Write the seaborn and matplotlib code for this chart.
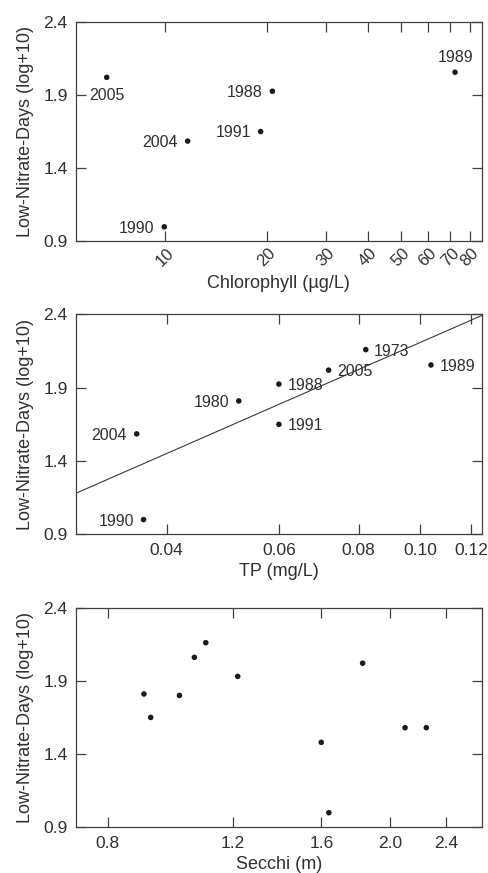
import numpy as np
import pandas as pd
import seaborn as sns
import matplotlib.pyplot as plt
from matplotlib.ticker import FixedLocator, FixedFormatter, NullLocator

# values

# panel 1 : chlorophyll
chl_ugl = [6.72, 9.95, 11.67, 19.2, 20.8, 72.3]
chl_days = [2.02, 1.00, 1.585, 1.65, 1.925, 2.055]
chl_years = ['2005', '1990', '2004', '1991', '1988', '1989']

# panel 2 : total phosphorus
tp_mgl = [0.0359, 0.0368, 0.0519, 0.060, 0.060, 0.0718, 0.0821, 0.1039]
tp_days = [1.585, 1.00, 1.81, 1.925, 1.65, 2.02, 2.16, 2.055]
tp_years = ['2004', '1990', '1980', '1988', '1991', '2005', '1973', '1989']

# panel 3 : secchi depth
secchi_m = [0.90, 0.92, 1.01, 1.06, 1.10, 1.22, 1.60, 1.64, 1.83, 2.10, 2.25]
secchi_days = [1.81, 1.65, 1.80, 2.06, 2.16, 1.93, 1.48, 1.00, 2.02, 1.58, 1.58]

y_ticks = [0.9, 1.4, 1.9, 2.4]
chl_ticks = [10, 20, 30, 40, 50, 60, 70, 80]
tp_ticks = [0.04, 0.06, 0.08, 0.10, 0.12]
tp_ticklabels = ['0.04', '0.06', '0.08', '0.10', '0.12']
secchi_ticks = [0.8, 1.2, 1.6, 2.0, 2.4]
secchi_ticklabels = ['0.8', '1.2', '1.6', '2.0', '2.4']

# where each year label sits relative to its point
chl_place = ['below', 'left', 'left', 'left', 'left', 'above']
tp_place = ['left', 'left', 'left', 'right', 'right', 'right', 'right', 'right']

TEXT = '#303030'
EDGE = '#404040'

sns.set_style('ticks')
plt.rcParams['font.family'] = ['Liberation Sans', 'DejaVu Sans']
plt.rcParams['text.color'] = TEXT
plt.rcParams['axes.labelcolor'] = TEXT
plt.rcParams['xtick.color'] = EDGE
plt.rcParams['ytick.color'] = EDGE
plt.rcParams['xtick.labelcolor'] = TEXT
plt.rcParams['ytick.labelcolor'] = TEXT
plt.rcParams['axes.edgecolor'] = EDGE


def style_axes(ax, xlim, ticks, ticklabels, xlabel, rot=0):
    ax.set_xscale('log')
    ax.set_xlim(*xlim)
    ax.set_ylim(0.9, 2.4)
    ax.xaxis.set_major_locator(FixedLocator(ticks))
    ax.xaxis.set_major_formatter(FixedFormatter(ticklabels))
    ax.xaxis.set_minor_locator(NullLocator())
    ax.set_yticks(y_ticks)
    ax.set_yticklabels([f'{v:.1f}' for v in y_ticks])
    ax.tick_params(direction='in', length=7.5, width=0.9, pad=6,
                   labelsize=12.5, top=True, right=True)
    for sp in ax.spines.values():
        sp.set_visible(True)
        sp.set_linewidth(0.9)
    if rot:
        for lab in ax.get_xticklabels():
            lab.set_rotation(rot)
            lab.set_ha('center')
            lab.set_fontsize(12)
        ax.tick_params(axis='x', pad=3)
    ax.set_xlabel(xlabel, fontsize=13, labelpad=4)
    ax.set_ylabel('Low-Nitrate-Days (log+10)', fontsize=13, labelpad=7)


def label_points(ax, xs, ys, labels, places):
    for x, y, lab, pl in zip(xs, ys, labels, places):
        if pl == 'left':
            off, ha, va = (-7, -1), 'right', 'center'
        elif pl == 'right':
            off, ha, va = (6, -1), 'left', 'center'
        elif pl == 'below':
            off, ha, va = (0, -8), 'center', 'top'
        else:
            off, ha, va = (0, 7.5), 'center', 'baseline'
        ax.annotate(lab, (x, y), xytext=off, textcoords='offset points',
                    ha=ha, va=va, fontsize=11.5, color=TEXT)


fig = plt.figure(figsize=(4.88, 8.73), dpi=100)
left, width, height = 0.1557, 0.8314, 0.2518
ax1 = fig.add_axes([left, 0.7234, width, height])
ax2 = fig.add_axes([left, 0.3880, width, height])
ax3 = fig.add_axes([left, 0.0523, width, height])

dot = dict(color='#1a1a1a', s=16, edgecolor='none', legend=False)

# chlorophyll
df1 = pd.DataFrame({'chl': chl_ugl, 'days': chl_days})
sns.scatterplot(data=df1, x='chl', y='days', ax=ax1, **dot)
style_axes(ax1, (5.45, 86.7), chl_ticks, [str(t) for t in chl_ticks],
           'Chlorophyll (\u00b5g/L)', rot=45)
label_points(ax1, chl_ugl, chl_days, chl_years, chl_place)

# total phosphorus with log-x regression line
df2 = pd.DataFrame({'tp': tp_mgl, 'days': tp_days})
tp_lim = (0.02883, 0.1248)
ax2.set_xscale('log')
ax2.set_xlim(*tp_lim)
sns.regplot(data=df2, x='tp', y='days', ax=ax2, logx=True, ci=None,
            truncate=False, scatter=False,
            line_kws=dict(color='#3a3a3a', lw=0.8))
sns.scatterplot(data=df2, x='tp', y='days', ax=ax2, **dot)
style_axes(ax2, tp_lim, tp_ticks, tp_ticklabels, 'TP (mg/L)')
label_points(ax2, tp_mgl, tp_days, tp_years, tp_place)

# secchi
df3 = pd.DataFrame({'secchi': secchi_m, 'days': secchi_days})
sns.scatterplot(data=df3, x='secchi', y='days', ax=ax3, **dot)
style_axes(ax3, (0.7219, 2.693), secchi_ticks, secchi_ticklabels, 'Secchi (m)')

fig.savefig('out.png', dpi=100)
